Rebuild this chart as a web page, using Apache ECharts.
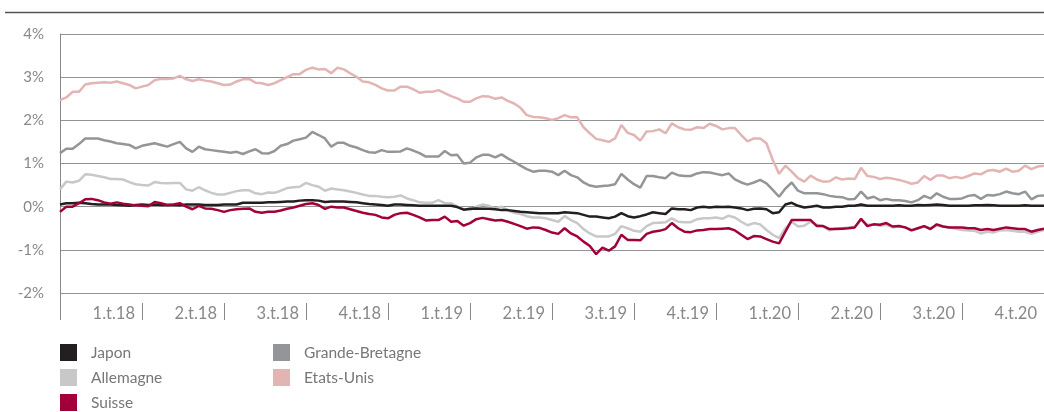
<!DOCTYPE html>
<html>
<head>
<meta charset="utf-8">
<script src="https://cdn.jsdelivr.net/npm/echarts@6/dist/echarts.min.js"></script>
<style>
  html, body { margin: 0; padding: 0; background: #fff; }
  #main { width: 1044px; height: 412px; }
</style>
</head>
<body>
<div id="main"></div>
<script>
// quarter labels, one every 13 weekly points
var quarterLabels = ['1.t.18','2.t.18','3.t.18','4.t.18','1.t.19','2.t.19','3.t.19','4.t.19','1.t.20','2.t.20','3.t.20','4.t.20'];
var weeksPerQuarter = 13;

var japon = [
  0.05,0.08,0.08,0.09,0.08,0.06,0.05,0.05,0.05,0.04,0.03,0.02,0.04,0.05,0.04,0.05,0.04,0.04,0.04,0.03,
  0.05,0.05,0.05,0.04,0.04,0.04,0.05,0.05,0.05,0.09,0.09,0.09,0.09,0.10,0.10,0.11,0.12,0.12,0.14,0.15,
  0.15,0.14,0.11,0.12,0.12,0.12,0.11,0.10,0.08,0.06,0.05,0.04,0.02,0.05,0.05,0.04,0.03,0.02,0.02,0.02,
  0.02,0.02,0.02,-0.01,-0.07,-0.05,-0.04,-0.05,-0.05,-0.06,-0.08,-0.08,-0.10,-0.12,-0.13,-0.14,-0.15,-0.15,-0.15,-0.15,
  -0.13,-0.14,-0.15,-0.19,-0.23,-0.23,-0.25,-0.27,-0.23,-0.15,-0.22,-0.25,-0.22,-0.18,-0.13,-0.15,-0.17,-0.04,-0.06,-0.06,
  -0.08,-0.02,0.00,-0.02,0.00,-0.01,0.00,-0.02,-0.04,-0.08,-0.05,-0.04,-0.06,-0.15,-0.13,0.05,0.09,0.02,-0.02,0.00,
  0.02,-0.02,-0.02,0.00,0.00,0.02,0.02,0.05,0.02,0.02,0.02,0.02,0.02,0.03,0.02,0.02,0.04,0.03,0.04,0.05,
  0.04,0.02,0.02,0.02,0.02,0.03,0.03,0.04,0.03,0.02,0.02,0.02,0.02,0.03,0.02,0.02,0.02
];

var allemagne = [
  0.40,0.58,0.56,0.60,0.75,0.74,0.71,0.68,0.64,0.64,0.63,0.57,0.52,0.50,0.49,0.57,0.55,0.54,0.55,0.55,
  0.40,0.37,0.45,0.38,0.32,0.28,0.28,0.32,0.36,0.38,0.38,0.31,0.29,0.33,0.32,0.37,0.43,0.45,0.46,0.55,
  0.50,0.46,0.37,0.42,0.40,0.38,0.35,0.32,0.28,0.25,0.25,0.23,0.22,0.23,0.26,0.19,0.15,0.10,0.09,0.09,
  0.15,0.08,0.08,0.00,-0.06,-0.08,0.00,0.05,0.02,-0.04,0.00,-0.09,-0.14,-0.17,-0.22,-0.25,-0.25,-0.27,-0.31,-0.35,
  -0.22,-0.31,-0.38,-0.52,-0.62,-0.69,-0.69,-0.69,-0.63,-0.45,-0.50,-0.56,-0.58,-0.45,-0.38,-0.37,-0.36,-0.27,-0.35,-0.36,
  -0.36,-0.29,-0.27,-0.27,-0.25,-0.28,-0.21,-0.25,-0.35,-0.43,-0.38,-0.41,-0.54,-0.65,-0.73,-0.50,-0.35,-0.46,-0.44,-0.35,
  -0.42,-0.46,-0.55,-0.50,-0.50,-0.48,-0.46,-0.31,-0.42,-0.41,-0.44,-0.42,-0.48,-0.46,-0.48,-0.54,-0.50,-0.46,-0.50,-0.44,
  -0.46,-0.48,-0.51,-0.54,-0.55,-0.56,-0.62,-0.58,-0.60,-0.55,-0.54,-0.56,-0.58,-0.58,-0.63,-0.58,-0.54
];

var suisse = [
  -0.12,0.00,0.00,0.08,0.17,0.18,0.15,0.10,0.07,0.10,0.07,0.05,0.03,0.02,0.01,0.11,0.08,0.04,0.05,0.08,
  0.00,-0.06,0.02,-0.04,-0.05,-0.08,-0.12,-0.08,-0.06,-0.05,-0.04,-0.12,-0.14,-0.12,-0.12,-0.09,-0.05,-0.02,0.02,0.06,
  0.08,0.04,-0.05,0.00,-0.02,-0.02,-0.06,-0.10,-0.14,-0.17,-0.19,-0.25,-0.27,-0.19,-0.15,-0.14,-0.19,-0.25,-0.32,-0.31,
  -0.31,-0.23,-0.35,-0.33,-0.44,-0.38,-0.29,-0.26,-0.29,-0.32,-0.31,-0.35,-0.40,-0.45,-0.51,-0.48,-0.49,-0.54,-0.60,-0.63,
  -0.50,-0.62,-0.69,-0.81,-0.91,-1.10,-0.95,-1.02,-0.92,-0.65,-0.77,-0.77,-0.78,-0.63,-0.58,-0.56,-0.52,-0.38,-0.50,-0.58,
  -0.59,-0.55,-0.54,-0.52,-0.52,-0.51,-0.50,-0.55,-0.65,-0.75,-0.68,-0.69,-0.75,-0.81,-0.85,-0.58,-0.31,-0.31,-0.31,-0.31,
  -0.45,-0.45,-0.52,-0.52,-0.51,-0.50,-0.48,-0.28,-0.45,-0.41,-0.42,-0.38,-0.46,-0.45,-0.48,-0.55,-0.50,-0.45,-0.52,-0.41,
  -0.46,-0.48,-0.48,-0.48,-0.50,-0.50,-0.54,-0.52,-0.54,-0.51,-0.48,-0.50,-0.52,-0.52,-0.58,-0.54,-0.51
];

var grandeBretagne = [
  1.24,1.34,1.34,1.45,1.58,1.58,1.58,1.54,1.51,1.47,1.45,1.43,1.35,1.41,1.44,1.47,1.43,1.39,1.45,1.50,
  1.35,1.27,1.39,1.33,1.31,1.29,1.27,1.25,1.27,1.22,1.28,1.33,1.24,1.23,1.29,1.41,1.45,1.53,1.56,1.60,
  1.73,1.66,1.58,1.39,1.48,1.48,1.41,1.37,1.31,1.26,1.25,1.31,1.27,1.27,1.28,1.35,1.30,1.24,1.16,1.16,
  1.16,1.29,1.19,1.20,1.00,1.02,1.14,1.20,1.20,1.14,1.21,1.12,1.04,0.95,0.87,0.81,0.83,0.83,0.81,0.73,
  0.83,0.73,0.68,0.56,0.49,0.46,0.48,0.49,0.52,0.76,0.63,0.52,0.44,0.71,0.71,0.68,0.66,0.79,0.73,0.71,
  0.71,0.77,0.80,0.79,0.76,0.73,0.77,0.63,0.56,0.51,0.56,0.62,0.54,0.39,0.23,0.42,0.56,0.37,0.31,0.31,
  0.31,0.29,0.25,0.23,0.22,0.17,0.18,0.35,0.19,0.23,0.15,0.18,0.15,0.15,0.13,0.10,0.15,0.25,0.19,0.31,
  0.23,0.18,0.18,0.19,0.25,0.27,0.18,0.27,0.26,0.29,0.35,0.31,0.29,0.35,0.17,0.25,0.26
];

var etatsUnis = [
  2.47,2.53,2.66,2.66,2.83,2.86,2.87,2.88,2.87,2.90,2.86,2.82,2.74,2.78,2.82,2.93,2.96,2.96,2.97,3.03,
  2.95,2.91,2.95,2.92,2.90,2.86,2.82,2.83,2.90,2.95,2.96,2.87,2.86,2.82,2.86,2.93,3.00,3.07,3.07,3.17,
  3.22,3.18,3.19,3.09,3.22,3.18,3.09,3.01,2.90,2.88,2.82,2.74,2.69,2.69,2.78,2.78,2.72,2.64,2.66,2.66,
  2.70,2.63,2.56,2.51,2.43,2.43,2.51,2.56,2.55,2.50,2.53,2.45,2.39,2.29,2.12,2.08,2.07,2.05,2.01,2.05,
  2.12,2.07,2.07,1.84,1.70,1.57,1.54,1.50,1.58,1.89,1.71,1.66,1.53,1.74,1.75,1.79,1.70,1.93,1.84,1.79,
  1.78,1.84,1.82,1.92,1.87,1.79,1.82,1.82,1.66,1.51,1.58,1.58,1.47,1.08,0.76,0.95,0.81,0.66,0.58,0.72,
  0.63,0.58,0.59,0.68,0.63,0.65,0.64,0.90,0.71,0.69,0.64,0.67,0.65,0.62,0.58,0.53,0.56,0.71,0.62,0.72,
  0.72,0.66,0.69,0.66,0.71,0.77,0.75,0.83,0.85,0.81,0.88,0.81,0.83,0.95,0.87,0.93,0.95
];

var weeks = [];
for (var i = 0; i < japon.length; i++) weeks.push('S' + i);

var myChart = echarts.init(document.getElementById('main'));
var font = 'Lato, "Open Sans", sans-serif';

function lineSeries(name, data, color) {
  return {
    name: name,
    type: 'line',
    data: data,
    symbol: 'none',
    lineStyle: { color: color, width: 2.5 },
    itemStyle: { color: color },
    animation: false
  };
}

var legendStyle = { color: '#777', fontSize: 15.5, fontFamily: font, padding: [0, 0, 0, 9] };

var option = {
  backgroundColor: '#fff',
  textStyle: { fontFamily: font },
  grid: { left: 60, right: 0, top: 34, bottom: 119 },
  legend: [{
    data: ['Japon', 'Allemagne', 'Suisse'],
    orient: 'vertical',
    left: 60, top: 344, height: 90,
    padding: 0,
    icon: 'rect', itemWidth: 17, itemHeight: 17, itemGap: 8,
    textStyle: legendStyle
  }, {
    data: ['Grande-Bretagne', 'Etats-Unis'],
    orient: 'vertical',
    left: 273, top: 344, height: 90,
    padding: 0,
    icon: 'rect', itemWidth: 17, itemHeight: 17, itemGap: 8,
    textStyle: legendStyle
  }],
  xAxis: {
    type: 'category',
    data: weeks,
    boundaryGap: false,
    offset: 10,
    axisLine: { show: false, onZero: false },
    axisTick: {
      show: true,
      length: 17,
      interval: function (idx) { return idx % weeksPerQuarter === 0; },
      lineStyle: { color: '#888', width: 1 }
    },
    axisLabel: {
      interval: function (idx) { return idx > 0 && idx % weeksPerQuarter === 0; },
      formatter: function (v, idx) { return quarterLabels[idx / weeksPerQuarter - 1] || ''; },
      align: 'right',
      padding: [0, 7, 0, 0],
      margin: 2,
      color: '#888',
      fontSize: 16.5,
      fontFamily: font
    },
    splitLine: { show: false }
  },
  yAxis: {
    type: 'value',
    min: -2, max: 4, interval: 1,
    axisLine: { show: true, lineStyle: { color: '#888', width: 1 } },
    axisTick: { show: false },
    axisLabel: {
      formatter: '{value}%',
      color: '#888',
      fontSize: 15,
      margin: 16,
      fontFamily: font
    },
    splitLine: { lineStyle: { color: '#939393', width: 1 } }
  },
  graphic: [
    { type: 'line', shape: { x1: 5, y1: 12.5, x2: 1044, y2: 12.5 }, style: { stroke: '#555', lineWidth: 1.5 } },
    { type: 'line', shape: { x1: 60.5, y1: 293, x2: 60.5, y2: 304 }, style: { stroke: '#888', lineWidth: 1 } }
  ],
  series: [
    lineSeries('Etats-Unis', etatsUnis, '#e3b4b4'),
    lineSeries('Grande-Bretagne', grandeBretagne, '#939598'),
    lineSeries('Allemagne', allemagne, '#c8c8c8'),
    lineSeries('Japon', japon, '#231f20'),
    lineSeries('Suisse', suisse, '#a2003a')
  ]
};
myChart.setOption(option);
</script>
</body>
</html>
